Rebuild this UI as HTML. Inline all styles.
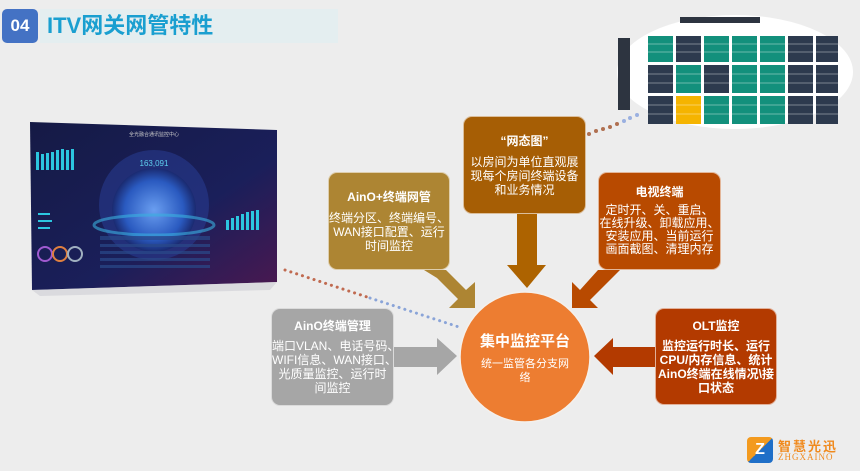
<!DOCTYPE html>
<html><head><meta charset="utf-8"><style>
html,body{margin:0;padding:0;background:#ededed;}
body{width:860px;height:471px;position:relative;overflow:hidden;font-family:"Liberation Sans","Noto Sans CJK SC",sans-serif;}
.box{position:absolute;border-radius:9px;color:#fff;text-align:center;box-sizing:border-box;border:1px solid rgba(255,255,255,.6);white-space:nowrap;}
.box h4{margin:0;font-size:12px;font-weight:bold;line-height:14px;}
.box p{margin:0;font-size:12px;line-height:14px;}
</style></head><body>
<div style="position:absolute;left:40px;top:9px;width:298px;height:34px;background:#e4eef0"></div>
<div style="position:absolute;left:2px;top:9px;width:36px;height:34px;background:#4472c4;border-radius:5px;color:#fff;font-weight:bold;font-size:17px;line-height:34px;text-align:center">04</div>
<div style="position:absolute;left:47px;top:11px;font-size:22px;font-weight:bold;color:#1a9fd0;line-height:30px">ITV网关网管特性</div>

<svg width="860" height="471" style="position:absolute;left:0;top:0">
<defs>
<linearGradient id="scr" x1="0" y1="0" x2="1" y2="1"><stop offset="0" stop-color="#151a45"/><stop offset=".6" stop-color="#1a1f5a"/><stop offset="1" stop-color="#4a1850"/></linearGradient>
<radialGradient id="globe"><stop offset="0" stop-color="#6a9ef0"/><stop offset=".7" stop-color="#2a5ac0"/><stop offset="1" stop-color="#1a2a70"/></radialGradient>
</defs>
<polygon points="30,122 277,130 277,282 32,290" fill="url(#scr)"/>
<polygon points="32,290 277,282 270,290 40,296" fill="#c8c8d0" opacity=".5"/>
<circle cx="154" cy="205" r="55" fill="#2a3f9a" opacity=".5"/>
<circle cx="154" cy="210" r="42" fill="url(#globe)"/>
<ellipse cx="154" cy="225" rx="60" ry="10" fill="none" stroke="#3ab0e0" stroke-width="3" opacity=".6"/>
<text x="154" y="166" font-size="8" fill="#5fd0f0" text-anchor="middle">163,091</text>
<text x="154" y="136" font-size="5" fill="#ccc" text-anchor="middle">全光融合通讯监控中心</text>
<g fill="#2cc6e0"><rect x="36" y="152" width="3" height="18"/><rect x="41" y="154" width="3" height="16"/><rect x="46" y="153" width="3" height="17"/><rect x="51" y="152" width="3" height="18"/><rect x="56" y="150" width="3" height="20"/><rect x="61" y="149" width="3" height="21"/><rect x="66" y="150" width="3" height="20"/><rect x="71" y="149" width="3" height="21"/>
<rect x="226" y="220" width="3" height="10"/><rect x="231" y="218" width="3" height="12"/><rect x="236" y="216" width="3" height="14"/><rect x="241" y="214" width="3" height="16"/><rect x="246" y="212" width="3" height="18"/><rect x="251" y="211" width="3" height="19"/><rect x="256" y="210" width="3" height="20"/>
<rect x="38" y="213" width="12" height="2"/><rect x="38" y="220" width="14" height="2"/><rect x="38" y="227" width="12" height="2"/></g>
<g fill="none" stroke-width="2"><circle cx="45" cy="254" r="7" stroke="#a05ad0"/><circle cx="60" cy="254" r="7" stroke="#e08040"/><circle cx="75" cy="254" r="7" stroke="#a0b0c0"/></g>
<g fill="#2a4a8a" opacity=".7"><rect x="100" y="236" width="110" height="4"/><rect x="100" y="244" width="110" height="3"/><rect x="100" y="251" width="110" height="3"/><rect x="100" y="258" width="110" height="3"/><rect x="100" y="265" width="110" height="3"/></g>

<ellipse cx="735" cy="72" rx="118" ry="57" fill="#fff"/>
<rect x="618" y="38" width="12" height="72" fill="#2d3440"/>
<rect x="680" y="17" width="80" height="6" fill="#2d3440"/>
<g>
<rect x="648" y="36" width="25" height="26" fill="#12907c"/><rect x="676" y="36" width="25" height="26" fill="#2d3a4e"/><rect x="704" y="36" width="25" height="26" fill="#12907c"/><rect x="732" y="36" width="25" height="26" fill="#12907c"/><rect x="760" y="36" width="25" height="26" fill="#12907c"/><rect x="788" y="36" width="25" height="26" fill="#2d3a4e"/><rect x="816" y="36" width="22" height="26" fill="#2d3a4e"/>
<rect x="648" y="65" width="25" height="28" fill="#2d3a4e"/><rect x="676" y="65" width="25" height="28" fill="#12907c"/><rect x="704" y="65" width="25" height="28" fill="#2d3a4e"/><rect x="732" y="65" width="25" height="28" fill="#12907c"/><rect x="760" y="65" width="25" height="28" fill="#12907c"/><rect x="788" y="65" width="25" height="28" fill="#2d3a4e"/><rect x="816" y="65" width="22" height="28" fill="#2d3a4e"/>
<rect x="648" y="96" width="25" height="28" fill="#2d3a4e"/><rect x="676" y="96" width="25" height="28" fill="#f5b400"/><rect x="704" y="96" width="25" height="28" fill="#12907c"/><rect x="732" y="96" width="25" height="28" fill="#12907c"/><rect x="760" y="96" width="25" height="28" fill="#12907c"/><rect x="788" y="96" width="25" height="28" fill="#2d3a4e"/><rect x="816" y="96" width="22" height="28" fill="#2d3a4e"/>
</g>
<g stroke="#fff" stroke-width="0.7" opacity=".5"><line x1="648" y1="44" x2="838" y2="44"/><line x1="648" y1="52" x2="838" y2="52"/><line x1="648" y1="74" x2="838" y2="74"/><line x1="648" y1="83" x2="838" y2="83"/><line x1="648" y1="105" x2="838" y2="105"/><line x1="648" y1="114" x2="838" y2="114"/></g>
<g fill="#b07050"><circle cx="589" cy="134" r="2"/><circle cx="596" cy="131" r="2"/><circle cx="603" cy="129" r="2"/><circle cx="610" cy="127" r="2"/><circle cx="617" cy="124" r="2"/></g>
<g fill="#9ab0e0"><circle cx="624" cy="121" r="2"/><circle cx="630" cy="118" r="2"/><circle cx="637" cy="115" r="2"/></g>
<line x1="285" y1="270" x2="370" y2="298" stroke="#c06a50" stroke-width="3" stroke-dasharray="0.1 6" stroke-linecap="round"/>
<line x1="370" y1="298" x2="462" y2="328" stroke="#8aa4d8" stroke-width="3" stroke-dasharray="0.1 6" stroke-linecap="round"/>

<polygon points="517,214 537,214 537,265 546,265 527,288 507,265 517,265" fill="#ad6300"/>
<polygon points="424,270 446,270 466,290 475,282 475,308 449,308 458,299 437,278" fill="#ad8533"/>
<polygon points="598,270 620,270 590,300 598,308 572,308 572,282 580,290" fill="#b84a00"/>
<polygon points="394,347 437,347 437,338 457,356 437,375 437,367 394,367" fill="#a6a6a6"/>
<polygon points="655,347 613,347 613,338 594,356 613,375 613,367 655,367" fill="#b33a00"/>
<circle cx="525" cy="357" r="65" fill="#ed7d31" stroke="#f4f0ec" stroke-width="1.5"/>
</svg>

<div class="box" style="left:463px;top:116px;width:123px;height:98px;background:#a65e05"><h4 style="margin-top:17px">“网态图”</h4><p style="margin-top:7px">以房间为单位直观展<br>现每个房间终端设备<br>和业务情况</p></div>
<div class="box" style="left:328px;top:172px;width:122px;height:98px;background:#ad8533"><h4 style="margin-top:17px">AinO+终端网管</h4><p style="margin-top:7px">终端分区、终端编号、<br>WAN接口配置、运行<br>时间监控</p></div>
<div class="box" style="left:598px;top:172px;width:123px;height:98px;background:#b84a00"><h4 style="margin-top:12px">电视终端</h4><p style="margin-top:5px;line-height:13px">定时开、关、重启、<br>在线升级、卸载应用、<br>安装应用、当前运行<br>画面截图、清理内存</p></div>
<div class="box" style="left:271px;top:308px;width:123px;height:98px;background:#a6a6a6"><h4 style="margin-top:10px">AinO终端管理</h4><p style="margin-top:6px">端口VLAN、电话号码、<br>WIFI信息、WAN接口、<br>光质量监控、运行时<br>间监控</p></div>
<div class="box" style="left:655px;top:308px;width:122px;height:97px;background:#b33a00"><h4 style="margin-top:10px">OLT监控</h4><p style="margin-top:6px;font-weight:bold">监控运行时长、运行<br>CPU/内存信息、统计<br>AinO终端在线情况\接<br>口状态</p></div>
<div style="position:absolute;left:470px;top:330px;width:110px;text-align:center;color:#fff;font-size:15px;font-weight:bold">集中监控平台</div>
<div style="position:absolute;left:476px;top:357px;width:98px;text-align:center;color:#fff;font-size:11px;line-height:14px">统一监管各分支网络</div>

<div style="position:absolute;left:747px;top:437px;width:26px;height:26px;border-radius:4px;background:linear-gradient(135deg,#f39a1e 50%,#1f6fc8 50%);color:#fff;font-weight:bold;font-size:16px;line-height:26px;text-align:center">Z</div>
<div style="position:absolute;left:778px;top:436px;color:#f08a1e;font-size:13px;font-weight:bold;letter-spacing:2px">智慧光迅</div>
<div style="position:absolute;left:778px;top:452px;color:#f08a1e;font-size:9px;letter-spacing:1px;font-family:'Liberation Serif',serif">ZHGXAINO</div>
</body></html>
